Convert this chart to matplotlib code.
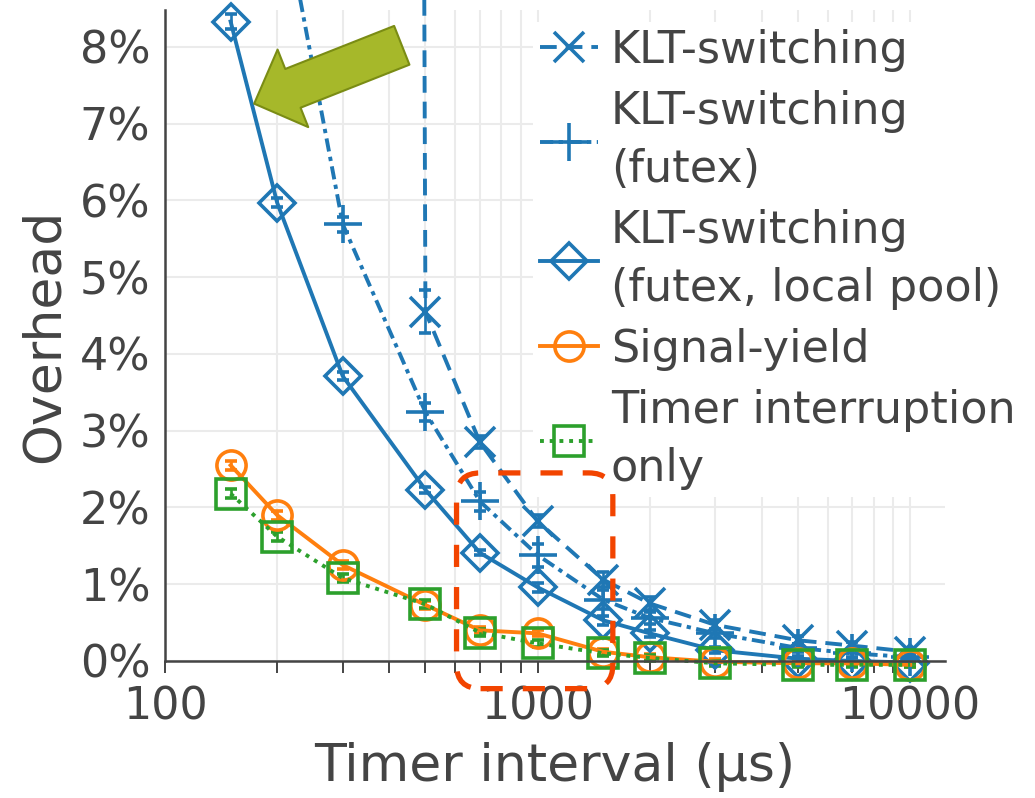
import numpy as np
import matplotlib
matplotlib.use("Agg")
import matplotlib.pyplot as plt
from matplotlib.lines import Line2D
from matplotlib.patches import FancyArrowPatch, FancyBboxPatch
from matplotlib.ticker import FuncFormatter, LogLocator, NullFormatter

# Timer intervals (microseconds) and measured overheads (percent)
intervals = [150, 200, 300, 500, 700, 1000, 1500, 2000, 3000, 5000, 7000, 10000]

klt_x = [300, 500, 700, 1000, 1500, 2000, 3000, 5000, 7000, 10000]
klt = [300.0, 4.55, 2.85, 1.82, 1.06, 0.75, 0.47, 0.27, 0.20, 0.12]
klt_err = [1.0, 0.28, 0.08, 0.08, 0.10, 0.08, 0.06, 0.05, 0.05, 0.05]

futex_x = [200, 300, 500, 700, 1000, 1500, 2000, 3000, 5000, 7000, 10000]
futex = [10.2, 5.69, 3.24, 2.08, 1.38, 0.80, 0.56, 0.36, 0.17, 0.10, 0.05]
futex_err = [0.1, 0.1, 0.12, 0.12, 0.15, 0.12, 0.08, 0.06, 0.05, 0.05, 0.05]

pool = [8.33, 5.97, 3.71, 2.23, 1.41, 0.96, 0.53, 0.36, 0.14, 0.03, 0.0, -0.02]
pool_err = [0.1, 0.06, 0.05, 0.04, 0.03, 0.06, 0.06, 0.05, 0.04, 0.04, 0.04, 0.04]

signal = [2.55, 1.90, 1.25, 0.73, 0.40, 0.36, 0.12, 0.05, -0.01, -0.03, -0.03, -0.05]
signal_err = [0.06, 0.06, 0.05, 0.05, 0.04, 0.04, 0.04, 0.04, 0.03, 0.03, 0.03, 0.03]

timer = [2.18, 1.62, 1.08, 0.74, 0.37, 0.23, 0.10, 0.04, -0.03, -0.05, -0.05, -0.05]
timer_err = [0.06, 0.06, 0.05, 0.05, 0.05, 0.05, 0.04, 0.04, 0.03, 0.03, 0.03, 0.03]

labels = ["KLT-switching", "KLT-switching\n(futex)", "KLT-switching\n(futex, local pool)",
          "Signal-yield", "Timer interruption\nonly"]

BLUE, ORANGE, GREEN = "#1f77b4", "#ff7f0e", "#2ca02c"
TEXT = "#444444"

plt.rcParams["font.family"] = ["DejaVu Sans Condensed", "DejaVu Sans"]
plt.rcParams["text.color"] = TEXT
plt.rcParams["axes.labelcolor"] = TEXT
plt.rcParams["xtick.color"] = TEXT
plt.rcParams["ytick.color"] = TEXT

DPI = 100
fig = plt.figure(figsize=(10.35, 7.98), dpi=DPI)
ax = fig.add_axes([165 / 1035, 137 / 798, 780 / 1035, 651 / 798])

lw = 2.8
mew = 2.6
common = dict(linewidth=lw, markerfacecolor="none", markeredgewidth=mew,
              elinewidth=1.9, capsize=4.5, capthick=1.9)

series = [
    (klt_x, klt, klt_err, BLUE, "x", 21, (0, (4.3, 2.3))),
    (futex_x, futex, futex_err, BLUE, "+", 27, (0, (3.4, 1.4, 1.1, 1.4))),
    (intervals, pool, pool_err, BLUE, "D", 18, "-"),
    (intervals, signal, signal_err, ORANGE, "o", 21, "-"),
    (intervals, timer, timer_err, GREEN, "s", 21, (0, (1.0, 1.5))),
]

legend_handles = []
for (xs, ys, es, col, mk, ms, ls), lab in zip(series, labels):
    h = ax.errorbar(xs, ys, yerr=es, color=col, marker=mk, markersize=ms,
                    markeredgecolor=col, linestyle=ls, **common)
    # markers near zero may spill below the axis line
    h.lines[0].set_clip_on(False)
    for artist in h.lines[1] + h.lines[2]:
        artist.set_clip_on(False)
    legend_handles.append(Line2D([], [], color=col, marker=mk, markersize=ms,
                                 markerfacecolor="none", markeredgecolor=col,
                                 markeredgewidth=mew, linewidth=lw, linestyle=ls,
                                 label=lab))

ax.set_xscale("log")
ax.set_xlim(100, 12400)
ax.set_ylim(0, 8.48)

ax.set_yticks(np.arange(0, 9, 1))
ax.yaxis.set_major_formatter(FuncFormatter(lambda v, p: f"{v:.0f}%"))
ax.xaxis.set_major_locator(LogLocator(base=10, numticks=10))
ax.xaxis.set_minor_locator(LogLocator(base=10, subs=np.arange(2, 10), numticks=20))
ax.xaxis.set_minor_formatter(NullFormatter())
ax.xaxis.set_major_formatter(FuncFormatter(lambda v, p: f"{v:.0f}"))

ax.tick_params(axis="y", length=0, pad=10.5, labelsize=32)
ax.tick_params(axis="x", which="both", length=8.5, width=1.4, direction="out",
               pad=9, labelsize=32, color=TEXT)

ax.grid(True, which="major", color="#ebebeb", linewidth=1.5)
ax.grid(True, which="minor", axis="x", color="#ebebeb", linewidth=1.5)
ax.set_axisbelow(True)

for side in ("top", "right"):
    ax.spines[side].set_visible(False)
for side in ("left", "bottom"):
    ax.spines[side].set_color(TEXT)
    ax.spines[side].set_linewidth(1.8)
    ax.spines[side].set_zorder(6)

ax.set_xlabel("Timer interval (µs)", fontsize=37.5, labelpad=10)
ax.set_ylabel("Overhead", fontsize=37.5, labelpad=7)

leg = ax.legend(handles=legend_handles, loc="upper left", bbox_to_anchor=(0.472, 0.981),
                fontsize=32, frameon=True, facecolor="white", edgecolor="none",
                framealpha=1.0, fancybox=False, handlelength=1.3, handletextpad=0.3,
                labelspacing=0.4, borderpad=0.15, borderaxespad=0.0)
for t in leg.get_texts():
    t.set_linespacing(1.45)
leg.set_zorder(7)

# highlight box around the 700-1500 µs region
to_in = fig.dpi_scale_trans.inverted()
(x0, y0) = to_in.transform(ax.transData.transform((606, -0.36)))
(x1, y1) = to_in.transform(ax.transData.transform((1592, 2.45)))
box = FancyBboxPatch((x0, y0), x1 - x0, y1 - y0,
                     boxstyle="round,pad=0,rounding_size=0.24",
                     transform=fig.dpi_scale_trans, fill=False,
                     edgecolor="#f24400", linewidth=3.8,
                     linestyle=(0, (4.2, 3.8)), zorder=8, clip_on=False)
fig.patches.append(box)

# arrow pointing at the local-pool curve
arrow = FancyArrowPatch((432, 8.02), (173.5, 7.26),
                        arrowstyle="simple,head_length=3.0,head_width=6.0,tail_width=3.0",
                        mutation_scale=10, shrinkA=0, shrinkB=0,
                        facecolor="#a6b82a", edgecolor="#7a8c14", linewidth=1.5,
                        zorder=9, clip_on=False)
ax.add_patch(arrow)

fig.savefig("out.png", dpi=DPI)
